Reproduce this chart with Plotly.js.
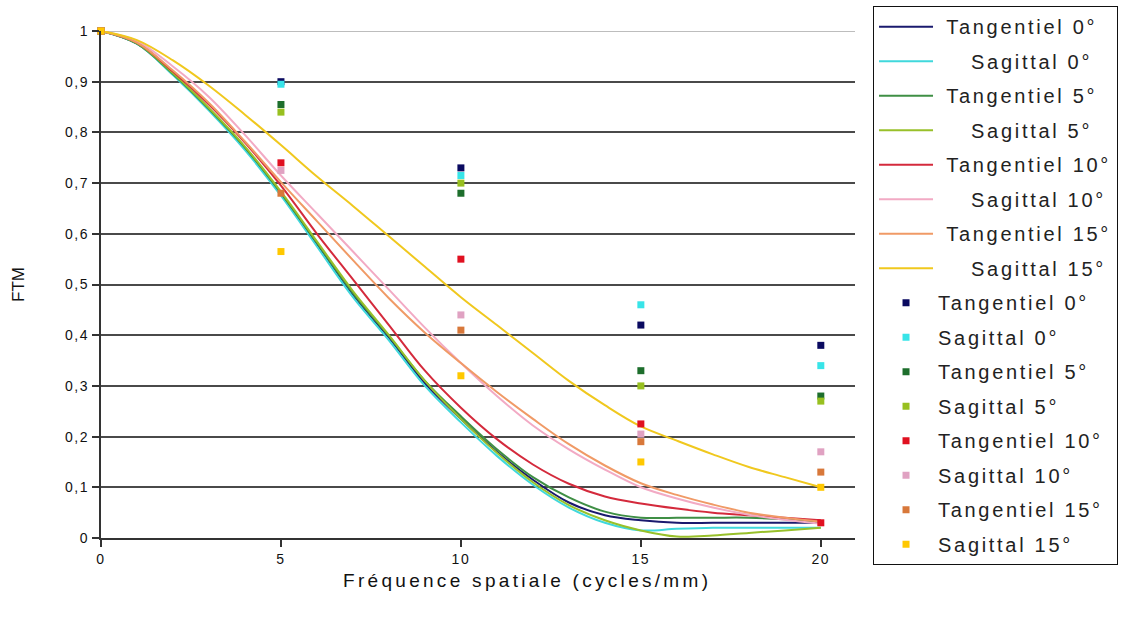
<!DOCTYPE html>
<html><head><meta charset="utf-8">
<script src="https://cdn.plot.ly/plotly-3.0.1.min.js"></script>
<style>
html,body{margin:0;padding:0;background:#fff;}
#chart{width:1127px;height:624px;}
.legendtext{letter-spacing:2.7px;}
.xtick text,.ytick text{letter-spacing:1.6px;}
.annotation-text{letter-spacing:3.3px;}
</style></head><body><div id="chart"></div>
<script>
const seriesNames = ['Tangentiel 0°','Sagittal 0°','Tangentiel 5°','Sagittal 5°','Tangentiel 10°','Sagittal 10°','Tangentiel 15°','Sagittal 15°'];
const xLine = [0,1,2,3,4,5,6,7,8,9,10,11,12,13,14,15,16,17,18,19,20];
const tang0Line  = [1,0.975,0.915,0.846,0.77,0.68,0.58,0.48,0.395,0.305,0.235,0.17,0.115,0.07,0.045,0.035,0.03,0.03,0.03,0.03,0.03];
const sag0Line   = [1,0.975,0.913,0.843,0.765,0.675,0.575,0.475,0.39,0.3,0.228,0.162,0.105,0.06,0.03,0.015,0.018,0.02,0.02,0.02,0.02];
const tang5Line  = [1,0.975,0.915,0.846,0.77,0.68,0.582,0.483,0.398,0.31,0.24,0.175,0.12,0.08,0.052,0.04,0.04,0.04,0.04,0.037,0.032];
const sag5Line   = [1,0.976,0.917,0.848,0.772,0.683,0.585,0.487,0.4,0.31,0.235,0.168,0.11,0.065,0.035,0.015,0.003,0.005,0.01,0.015,0.02];
const tang10Line = [1,0.977,0.92,0.855,0.78,0.695,0.6,0.51,0.42,0.33,0.257,0.195,0.145,0.107,0.082,0.068,0.058,0.05,0.045,0.04,0.035];
const sag10Line  = [1,0.98,0.93,0.87,0.795,0.715,0.64,0.565,0.49,0.415,0.345,0.28,0.222,0.175,0.135,0.1,0.078,0.06,0.046,0.036,0.028];
const tang15Line = [1,0.977,0.922,0.858,0.782,0.702,0.625,0.548,0.473,0.405,0.345,0.288,0.235,0.185,0.143,0.108,0.085,0.066,0.05,0.04,0.032];
const sag15Line  = [1,0.982,0.942,0.892,0.835,0.775,0.713,0.655,0.595,0.535,0.475,0.42,0.365,0.31,0.262,0.22,0.192,0.165,0.14,0.12,0.1];

const xMarker = [0,5,10,15,20];
const tang0Pts  = [1,0.90,0.73,0.42,0.38];
const sag0Pts   = [1,0.895,0.715,0.46,0.34];
const tang5Pts  = [1,0.855,0.68,0.33,0.28];
const sag5Pts   = [1,0.84,0.70,0.30,0.27];
const tang10Pts = [1,0.74,0.55,0.225,0.03];
const sag10Pts  = [1,0.725,0.44,0.205,0.17];
const tang15Pts = [1,0.68,0.41,0.19,0.13];
const sag15Pts  = [1,0.565,0.32,0.15,0.10];

const yTickVals = [0,0.1,0.2,0.3,0.4,0.5,0.6,0.7,0.8,0.9,1];
const yTickText = ['0','0,1','0,2','0,3','0,4','0,5','0,6','0,7','0,8','0,9','1'];
const xTickVals = [0,5,10,15,20];
const xTickText = ['0','5','10','15','20'];
const xTitle = 'Fréquence spatiale (cycles/mm)';
const yTitle = 'FTM';

const lineColors = ['#1a1a6e','#40d8dc','#3f8f45','#98c02a','#d42a3c','#f2aac4','#f09a66','#f0c81e'];
const markerColors = ['#0a0a60','#38e4e8','#1d6e2c','#98c020','#e01020','#e0a2c2','#d8783a','#ffc800'];
const lineSets = [tang0Line,sag0Line,tang5Line,sag5Line,tang10Line,sag10Line,tang15Line,sag15Line];
const ptSets = [tang0Pts,sag0Pts,tang5Pts,sag5Pts,tang10Pts,sag10Pts,tang15Pts,sag15Pts];

const NB = '\u00a0';
function linePad(n){ return n.startsWith('Sagittal') ? NB.repeat(4)+n : NB.repeat(1)+n; }

const traces = [];
lineSets.forEach((ys,i)=>{
  traces.push({x:xLine,y:ys,type:'scatter',mode:'lines',name:linePad(seriesNames[i]),
    legendgroup:'l'+i,line:{color:lineColors[i],width:2,shape:'spline',smoothing:1},
    hoverinfo:'skip',cliponaxis:false});
});
ptSets.forEach((ys,i)=>{
  traces.push({x:xMarker,y:ys,type:'scatter',mode:'markers',name:seriesNames[i],
    legendgroup:'m'+i,marker:{color:markerColors[i],size:7,symbol:'square'},
    cliponaxis:false});
});

const layout = {
  width:1127,height:624,
  margin:{l:101,r:272,t:31,b:86,autoexpand:false},
  paper_bgcolor:'#fff',plot_bgcolor:'#fff',
  font:{family:'Liberation Sans, Arial, sans-serif',color:'#111',size:14},
  showlegend:true,
  legend:{x:1.0239,y:1.049,xanchor:'left',yanchor:'top',bgcolor:'#fff',
    bordercolor:'#111',borderwidth:1,font:{size:20,color:'#222'},
    traceorder:'grouped',tracegroupgap:5.5,itemwidth:54,maxheight:620},
  xaxis:{range:[0,20.95],tickvals:xTickVals,ticktext:xTickText,
    showgrid:false,zeroline:false,showline:true,linecolor:'#333',linewidth:2,
    ticks:'outside',ticklen:7,tickwidth:2,tickcolor:'#333',
    tickfont:{size:14,color:'#111'}},
  yaxis:{range:[0,1],tickvals:yTickVals,ticktext:yTickText,
    showgrid:true,gridcolor:'#4a4a4a',gridwidth:2,zeroline:false,
    showline:true,linecolor:'#333',linewidth:2,
    ticks:'outside',ticklen:7,tickwidth:2,tickcolor:'#333',
    tickfont:{size:14,color:'#111'},
    title:{text:yTitle,font:{size:17,color:'#111'},standoff:36}},
  annotations:[{text:xTitle,xref:'paper',yref:'paper',x:(527-101)/754,y:-42/507,
    xanchor:'center',yanchor:'middle',showarrow:false,font:{size:19,color:'#111'}}],
  shapes:[{type:'line',xref:'paper',yref:'y',x0:0,x1:1,y0:1,y1:1,
    line:{color:'#bdbdbd',width:2},layer:'between'}]
};
Plotly.newPlot('chart',traces,layout,{displayModeBar:false,staticPlot:true});
</script></body></html>
